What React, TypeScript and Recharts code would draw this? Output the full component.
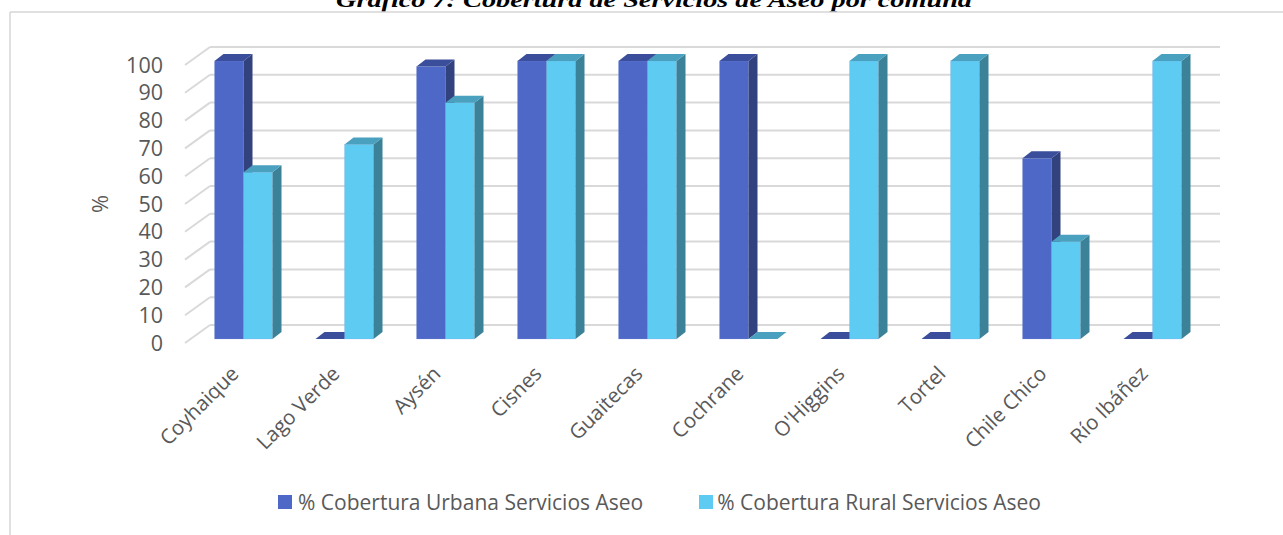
import React from 'react';
import { BarChart, Bar, XAxis, YAxis, CartesianGrid, Legend } from 'recharts';

const comunas = ['Coyhaique', 'Lago Verde', 'Aysén', 'Cisnes', 'Guaitecas', 'Cochrane', "O'Higgins", 'Tortel', 'Chile Chico', 'Río Ibáñez'];
const urbana = [100, 0, 98, 100, 100, 100, 0, 0, 65, 0];
const rural = [60, 70, 85, 100, 100, 0, 100, 100, 35, 100];
const yTicks = [0, 10, 20, 30, 40, 50, 60, 70, 80, 90, 100];

const SERIES_URB = '% Cobertura Urbana Servicios Aseo';
const SERIES_RUR = '% Cobertura Rural Servicios Aseo';

const data = comunas.map((c, i) => ({ comuna: c, urbana: urbana[i], rural: rural[i] }));

// depth of the fake 3d
const DX = 9;
const DY = 7;
const LIFT = 4;

const faces = {
  urbana: { front: '#4E68C8', side: '#32427F', top: '#3A4E9B' },
  rural: { front: '#5DCBF2', side: '#3B8198', top: '#49A1BF' },
};

const make3dBar = (c: { front: string; side: string; top: string }) => (props: any) => {
  const { x, width } = props;
  const h = Math.max(0, props.height || 0);
  const y = props.y - LIFT;
  return (
    <g>
      {h > 0 && <rect x={x} y={y} width={width} height={h} fill={c.front} stroke="#8FA0E0" strokeOpacity={0.35} strokeWidth={0.6} />}
      {h > 0 && (
        <polygon
          points={`${x + width},${y} ${x + width + DX},${y - DY} ${x + width + DX},${y + h - DY} ${x + width},${y + h}`}
          fill={c.side}
        />
      )}
      <polygon
        points={`${x},${y} ${x + DX},${y - DY} ${x + width + DX},${y - DY} ${x + width},${y}`}
        fill={c.top}
      />
    </g>
  );
};

const GridLine = (props: any) => {
  const { x1, x2, y1 } = props;
  return (
    <g>
      <line x1={x1 - 7.5} y1={y1} x2={x1 + 17.5} y2={y1 - 18} stroke="#D9D9D9" strokeWidth={2} />
      <line x1={x1 + 17.5} y1={y1 - 18} x2={x2 + 17.5} y2={y1 - 18} stroke="#D9D9D9" strokeWidth={2} />
    </g>
  );
};

const XTick = (props: any) => {
  const { x, y, payload } = props;
  return (
    <text
      transform={`translate(${x - 3}, ${y + 24}) rotate(-45)`}
      textAnchor="end"
      fontSize={20.5}
      fill="#595959"
    >
      {payload.value}
    </text>
  );
};

const LegendBox = () => (
  <div style={{ display: 'flex', alignItems: 'center', fontSize: 21, color: '#595959', lineHeight: '24px' }}>
    <span style={{ width: 14, height: 14, background: faces.urbana.front, display: 'inline-block', marginRight: 6 }} />
    <span style={{ marginRight: 56 }}>{SERIES_URB}</span>
    <span style={{ width: 14, height: 14, background: faces.rural.front, display: 'inline-block', marginRight: 4 }} />
    <span>{SERIES_RUR}</span>
  </div>
);

export default function App() {
  return (
    <div style={{ position: 'absolute', left: 0, top: 0, width: 1283, height: 535, background: '#fff', fontFamily: '"Open Sans", sans-serif', overflow: 'hidden' }}>
      <svg width={1283} height={535} style={{ position: 'absolute', left: 0, top: 0 }}>
        <text
          x={336}
          y={7}
          textLength={636}
          lengthAdjust="spacingAndGlyphs"
          fontFamily='"Liberation Serif", serif'
          fontWeight="bold"
          fontStyle="italic"
          fontSize={22}
          fill="#000"
        >
          Gráfico 7: Cobertura de Servicios de Aseo por comuna
        </text>
        <line x1={10} y1={12} x2={1283} y2={12} stroke="#D6D6D6" strokeWidth={1.5} />
        <line x1={10} y1={12} x2={10} y2={535} stroke="#D6D6D6" strokeWidth={1.5} />
      </svg>
      <div style={{ position: 'absolute', left: 0, top: 0 }}>
        <BarChart
          width={1283}
          height={535}
          data={data}
          margin={{ top: 65, right: 80.5, left: 0, bottom: 42 }}
          barGap={0}
          barSize={29}
        >
          <CartesianGrid vertical={false} horizontal={(p: any) => <GridLine key={p.key} {...p} />} />
          <XAxis dataKey="comuna" interval={0} axisLine={false} tickLine={false} height={150} tick={<XTick />} />
          <YAxis
            width={192.5}
            domain={[0, 100]}
            ticks={yTicks}
            interval={0}
            axisLine={false}
            tickLine={false}
            tickMargin={23.5}
            tick={{ fontSize: 21.5, fill: '#595959' }}
            label={({ viewBox }: any) => (
              <text
                transform={`translate(${viewBox.x + 108}, ${viewBox.y + viewBox.height / 2}) rotate(-90)`}
                textAnchor="middle"
                fontSize={22}
                fill="#595959"
              >
                %
              </text>
            )}
          />
          <Legend
            verticalAlign="middle"
            align="center"
            layout="horizontal"
            content={<LegendBox />}
            wrapperStyle={{ position: 'absolute', top: 490, left: 278, width: 900 }}
          />
          <Bar dataKey="urbana" name={SERIES_URB} fill={faces.urbana.front} shape={make3dBar(faces.urbana)} isAnimationActive={false} />
          <Bar dataKey="rural" name={SERIES_RUR} fill={faces.rural.front} shape={make3dBar(faces.rural)} isAnimationActive={false} />
        </BarChart>
      </div>
    </div>
  );
}
